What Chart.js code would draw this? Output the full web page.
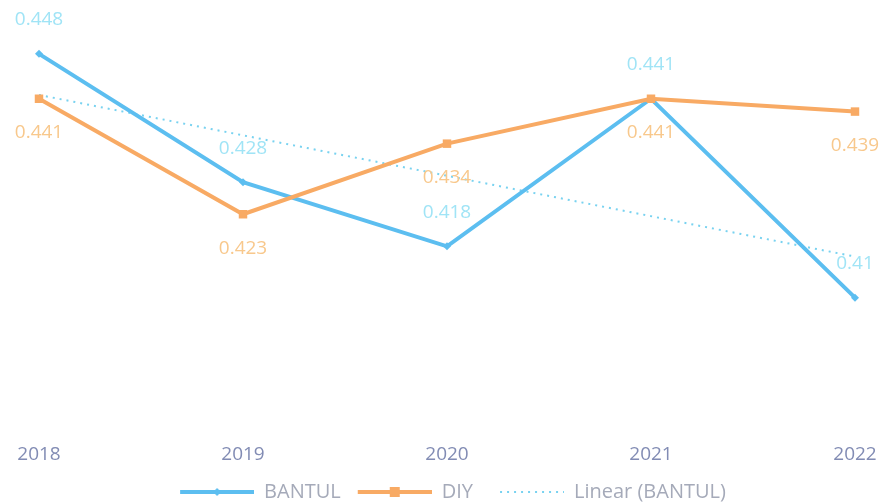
<!DOCTYPE html>
<html>
<head>
<meta charset="utf-8">
<script src="https://cdn.jsdelivr.net/npm/chart.js@4"></script>
<style>
  body { margin: 0; background: #fff; }
  #wrap { width: 882px; height: 504px; }
</style>
</head>
<body>
<div id="wrap"><canvas id="myChart"></canvas></div>
<script>
const years = ['2018', '2019', '2020', '2021', '2022'];
const bantul = [0.448, 0.428, 0.418, 0.441, 0.41];
const diy = [0.441, 0.423, 0.434, 0.441, 0.439];
// trendline ends
const linearBantul = [0.4416, null, null, null, 0.4164];

const blue = 'rgb(92, 190, 240)';
const orange = 'rgb(248, 170, 100)';
const blueLabel = 'rgb(160, 228, 246)';
const orangeLabel = 'rgb(248, 200, 140)';
const trendBlue = 'rgb(120, 210, 240)';
const fontFam = '"Open Sans", sans-serif';

function legendIcon(color, marker, dotted){
  const c = document.createElement('canvas');
  c.width = 86;
  c.height = 12;
  const ctx = c.getContext('2d');
  ctx.strokeStyle = color;
  ctx.fillStyle = color;
  if (dotted){
    ctx.lineWidth = 2;
    ctx.setLineDash([2, 5]);
    ctx.beginPath();
    ctx.moveTo(22, 6);
    ctx.lineTo(86, 6);
    ctx.stroke();
    return c;
  }
  ctx.lineWidth = 4;
  ctx.beginPath();
  ctx.moveTo(12, 6);
  ctx.lineTo(86, 6);
  ctx.stroke();
  if (marker == 'rect'){
    ctx.fillRect(44, 1, 10, 10);
  }
  else {
    ctx.beginPath();
    ctx.moveTo(49, 2);
    ctx.lineTo(53, 6);
    ctx.lineTo(49, 10);
    ctx.lineTo(45, 6);
    ctx.closePath();
    ctx.fill();
  }
  return c;
}

const icons = [legendIcon(blue, 'diamond'), legendIcon(orange, 'rect'), legendIcon(trendBlue, null, true)];

const valueLabels = {
  id: 'valueLabels',
  afterLayout(chart){
    // push the legend down a little, nearer the bottom edge
    chart.legend.top += 8;
    chart.legend.bottom += 8;
  },
  afterDatasetsDraw(chart){
    const ctx = chart.ctx;
    ctx.save();
    ctx.font = '19px ' + fontFam;
    ctx.textAlign = 'center';
    ctx.textBaseline = 'middle';
    [[0, -34, blueLabel], [1, 34, orangeLabel]].forEach(function(s){
      const meta = chart.getDatasetMeta(s[0]);
      const vals = chart.data.datasets[s[0]].data;
      ctx.fillStyle = s[2];
      meta.data.forEach(function(pt, i){
        ctx.fillText(String(vals[i]), pt.x, pt.y + s[1]);
      });
    });
    ctx.restore();
  }
};

const data = {
  labels: years,
  datasets: [
    {
      label: 'BANTUL',
      data: bantul,
      borderColor: blue,
      backgroundColor: blue,
      borderWidth: 4,
      pointStyle: 'rectRot',
      pointRadius: 4,
      pointBorderWidth: 0,
      order: 1
    },
    {
      label: 'DIY',
      data: diy,
      borderColor: orange,
      backgroundColor: orange,
      borderWidth: 4,
      pointStyle: 'rect',
      pointRadius: 6,
      pointBorderWidth: 0,
      order: 0
    },
    {
      label: 'Linear (BANTUL)',
      data: linearBantul,
      borderColor: trendBlue,
      borderWidth: 2,
      borderDash: [2, 5],
      pointRadius: 0,
      spanGaps: true,
      order: 2
    }
  ]
};

const config = {
  type: 'line',
  data: data,
  plugins: [valueLabels],
  options: {
    responsive: true,
    maintainAspectRatio: false,
    animation: false,
    devicePixelRatio: 1,
    layout: {
      padding: { left: 39, right: 27, top: 41, bottom: 0 }
    },
    plugins: {
      tooltip: { enabled: false },
      legend: {
        position: 'bottom',
        labels: {
          usePointStyle: true,
          pointStyleWidth: 86,
          boxHeight: 12,
          padding: 5,
          color: 'rgb(165, 170, 185)',
          font: { family: fontFam, size: 20 },
          sort: function(a, b){ return a.datasetIndex - b.datasetIndex; },
          generateLabels: function(chart){
            return chart.data.datasets.map(function(ds, i){
              return {
                text: ds.label,
                datasetIndex: i,
                pointStyle: icons[i],
                fontColor: 'rgb(165, 170, 185)',
                lineWidth: 0,
                strokeStyle: 'transparent',
                fillStyle: 'transparent'
              };
            });
          }
        }
      }
    },
    scales: {
      x: {
        offset: false,
        grid: { display: false, drawTicks: false },
        border: { display: false },
        ticks: {
          padding: 17,
          color: 'rgb(130, 140, 180)',
          font: { family: fontFam, size: 19 }
        },
        afterFit: function(axis){
          axis.height = 43;
          axis.paddingLeft = 0;
          axis.paddingRight = 0;
        }
      },
      y: {
        display: false,
        min: 0.39,
        max: 0.45
      }
    }
  }
};

const myChart = new Chart(document.getElementById('myChart'), config);
</script>
</body>
</html>
